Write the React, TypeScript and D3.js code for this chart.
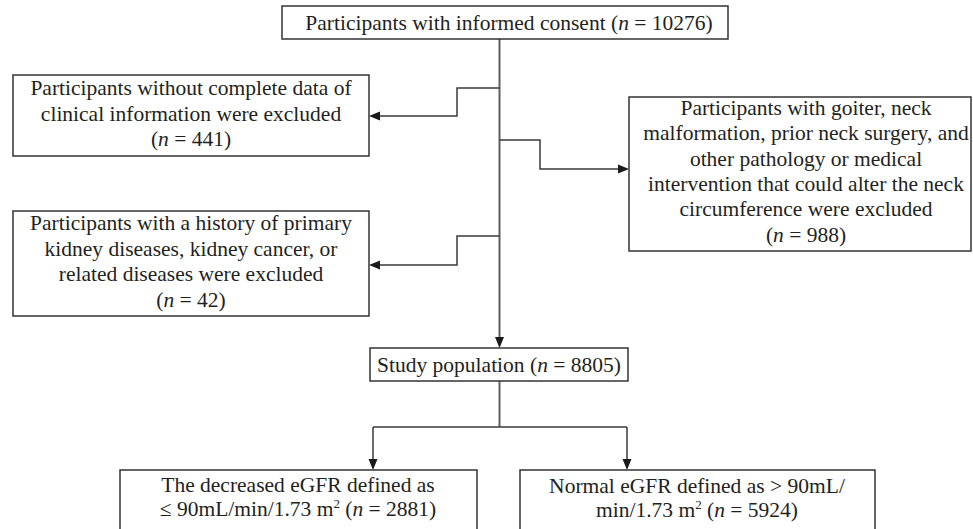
import React, { useEffect, useRef } from 'react';
import * as d3 from 'd3';

// counts shown in each box (n = ...)
const boxCounts = [10276, 441, 42, 988, 8805, 2881, 5924];

// text lines for each box; *n* = italic, ^2 = superscript, {c} = count
const boxLines: string[][] = [
	['Participants with informed consent (*n* = {c})'],
	['Participants without complete data of', 'clinical information were excluded', '(*n* = {c})'],
	['Participants with a history of primary', 'kidney diseases, kidney cancer, or', 'related diseases were excluded', '(*n* = {c})'],
	['Participants with goiter, neck', 'malformation, prior neck surgery, and', 'other pathology or medical', 'intervention that could alter the neck', 'circumference were excluded', '(*n* = {c})'],
	['Study population (*n* = {c})'],
	['The decreased eGFR defined as', '≤ 90mL/min/1.73 m^2 (*n* = {c})'],
	['Normal eGFR defined as > 90mL/', 'min/1.73 m^2 (*n* = {c})'],
];

// box geometry
const layout = [
	{ x0: 282, y0: 6, x1: 728, y1: 39, cx: 509, base: 30, lh: 25.6 },
	{ x0: 13, y0: 75, x1: 369, y1: 156, cx: 191, base: 95, lh: 25.7 },
	{ x0: 13, y0: 211, x1: 369, y1: 316, cx: 191, base: 230, lh: 25.6 },
	{ x0: 629, y0: 97, x1: 971, y1: 251, cx: 806, base: 115, lh: 25.3 },
	{ x0: 370, y0: 348, x1: 628, y1: 381, cx: 499, base: 372, lh: 25 },
	{ x0: 120, y0: 470, x1: 477, y1: 545, cx: 298, base: 492, lh: 24 },
	{ x0: 520, y0: 470, x1: 875, y1: 545, cx: 697, base: 493, lh: 24 },
];

type Pt = [number, number];
const mainX = 499.5;
const connectors: { pts: Pt[]; arrow: boolean; main?: boolean }[] = [
	{ pts: [[mainX, 39], [mainX, 348]], arrow: true, main: true },
	{ pts: [[mainX, 88], [457, 88], [457, 116], [369, 116]], arrow: true },
	{ pts: [[mainX, 140], [540, 140], [540, 169], [629, 169]], arrow: true },
	{ pts: [[mainX, 236], [457, 236], [457, 265], [369, 265]], arrow: true },
	{ pts: [[mainX, 381], [mainX, 427]], arrow: false, main: true },
	{ pts: [[373, 427], [627, 427]], arrow: false },
	{ pts: [[373, 427], [373, 470]], arrow: true },
	{ pts: [[627, 427], [627, 470]], arrow: true },
];

const App: React.FC = () => {
	const svgRef = useRef<SVGSVGElement>(null);

	useEffect(() => {
		if (!svgRef.current) return;
		const width = 973;
		const height = 529;
		const svg = d3.select(svgRef.current).attr('width', width).attr('height', height);
		svg.selectAll('*').remove();

		svg.append('rect').attr('width', width).attr('height', height).attr('fill', '#fff');

		const line = d3.line<Pt>().x(d => d[0]).y(d => d[1]);
		const arrowLen = 11;
		const arrowHalf = 4.5;

		connectors.forEach(c => {
			const pts = c.pts.slice();
			const end = pts[pts.length - 1];
			const prev = pts[pts.length - 2];
			const dx = Math.sign(end[0] - prev[0]);
			const dy = Math.sign(end[1] - prev[1]);
			const bx = end[0] - dx * arrowLen;
			const by = end[1] - dy * arrowLen;
			const drawPts: Pt[] = c.arrow ? pts.slice(0, -1).concat([[bx, by]]) : pts;
			svg.append('path')
				.attr('d', line(drawPts))
				.attr('fill', 'none')
				.attr('stroke', c.main ? '#5f5f5f' : '#3a3a3a')
				.attr('stroke-width', c.main ? 2 : 1.5);
			if (c.arrow) {
				const tri: Pt[] = [
					[end[0], end[1]],
					[bx + dy * arrowHalf, by + dx * arrowHalf],
					[bx - dy * arrowHalf, by - dx * arrowHalf],
				];
				svg.append('path')
					.attr('d', line(tri) + 'Z')
					.attr('fill', '#1a1a1a');
			}
		});

		layout.forEach((b, i) => {
			svg.append('rect')
				.attr('x', b.x0)
				.attr('y', b.y0)
				.attr('width', b.x1 - b.x0)
				.attr('height', b.y1 - b.y0)
				.attr('fill', '#fff')
				.attr('stroke', '#333')
				.attr('stroke-width', 1.5);

			boxLines[i].forEach((raw, li) => {
				const str = raw.replace('{c}', String(boxCounts[i]));
				const text = svg.append('text')
					.attr('x', b.cx)
					.attr('y', b.base + li * b.lh)
					.attr('text-anchor', 'middle')
					.attr('font-family', '"Liberation Serif", "Times New Roman", serif')
					.attr('font-size', 21.5)
					.attr('fill', '#231f20');
				const parts = str.split(/(\*n\*|\^2)/).filter(p => p.length);
				let resetDy = false;
				parts.forEach(p => {
					let ts;
					if (p === '*n*') {
						ts = text.append('tspan').attr('font-style', 'italic').text('n');
					} else if (p === '^2') {
						ts = text.append('tspan').attr('font-size', 13).attr('dy', -8).text('2');
					} else {
						ts = text.append('tspan').text(p);
					}
					if (resetDy) { ts.attr('dy', 8); resetDy = false; }
					if (p === '^2') resetDy = true;
				});
			});
		});
	}, []);

	return <svg ref={svgRef} style={{ position: 'absolute', left: 0, top: 0, display: 'block' }}></svg>;
};

export default App;
